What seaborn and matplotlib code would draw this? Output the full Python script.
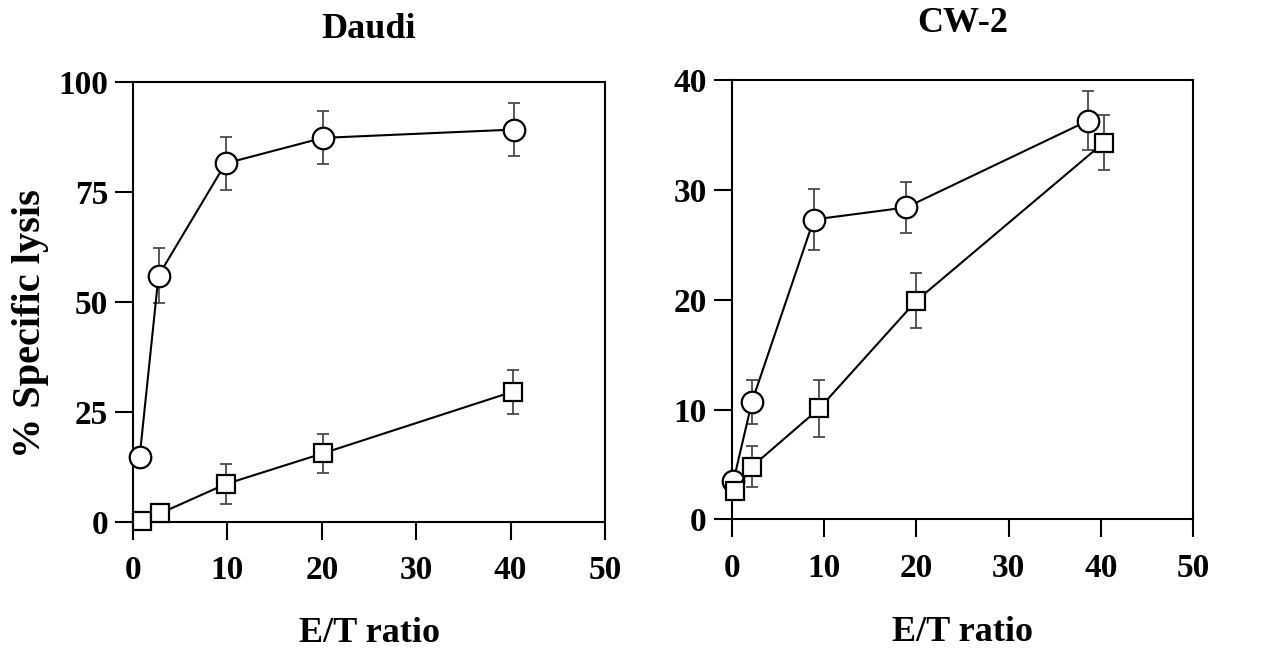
import numpy as np
import pandas as pd
import matplotlib
matplotlib.use("Agg")
import matplotlib.pyplot as plt
import seaborn as sns

# ---- data ----
daudi_circ_x = [0.7, 2.7, 9.8, 20.1, 40.4]
daudi_circ_y = [14.8, 56.0, 81.5, 87.3, 89.2]
daudi_circ_e = [0, 6.2, 6.0, 6.0, 6.0]
daudi_sq_x = [0.9, 2.9, 9.8, 20.1, 40.2]
daudi_sq_y = [0.2, 2.0, 8.6, 15.6, 29.6]
daudi_sq_e = [0, 0, 4.5, 4.4, 5.0]

cw2_circ_x = [0.2, 2.2, 8.9, 18.9, 38.6]
cw2_circ_y = [3.5, 10.7, 27.3, 28.4, 36.3]
cw2_circ_e = [0, 2.0, 2.8, 2.3, 2.7]
cw2_sq_x = [0.4, 2.2, 9.5, 20.0, 40.3]
cw2_sq_y = [2.6, 4.8, 10.1, 19.9, 34.3]
cw2_sq_e = [0, 1.9, 2.6, 2.5, 2.5]

titles = ["Daudi", "CW-2"]
xticks = [0, 10, 20, 30, 40, 50]
yticks_left = [0, 25, 50, 75, 100]
yticks_right = [0, 10, 20, 30, 40]

sns.set_style("ticks")
plt.rcParams['font.family'] = ['Liberation Serif', 'DejaVu Serif']
plt.rcParams['font.weight'] = 'bold'

fig = plt.figure(figsize=(12.61, 6.53), dpi=100)
axL = fig.add_axes([0.1055, 0.2006, 0.3743, 0.6738])
axR = fig.add_axes([0.5802, 0.2047, 0.3661, 0.6727])

panels = [
    (axL, daudi_circ_x, daudi_circ_y, daudi_circ_e, daudi_sq_x, daudi_sq_y, daudi_sq_e, yticks_left, titles[0], 32, 22),
    (axR, cw2_circ_x, cw2_circ_y, cw2_circ_e, cw2_sq_x, cw2_sq_y, cw2_sq_e, yticks_right, titles[1], 34.5, 23),
]

for ax, cx, cy, ce, sx, sy, se, yt, title, tpad, xlpad in panels:
    for x, y, e in [(cx, cy, ce), (sx, sy, se)]:
        ax.errorbar(x, y, yerr=e, fmt='none', ecolor='#4a4a4a', elinewidth=1.3,
                    capsize=4.5, capthick=1.3, zorder=2, clip_on=False)
    dfc = pd.DataFrame({"x": cx, "y": cy})
    dfs = pd.DataFrame({"x": sx, "y": sy})
    sns.lineplot(data=dfc, x="x", y="y", ax=ax, color='black', linewidth=1.5,
                 marker='o', markersize=15.5, markerfacecolor='white',
                 markeredgecolor='black', markeredgewidth=1.6, sort=False,
                 zorder=3, clip_on=False)
    sns.lineplot(data=dfs, x="x", y="y", ax=ax, color='black', linewidth=1.5,
                 marker='s', markersize=12.5, markerfacecolor='white',
                 markeredgecolor='black', markeredgewidth=1.6, sort=False,
                 zorder=4, clip_on=False)
    ax.set_xlim(0, 50)
    ax.set_ylim(0, yt[-1])
    ax.set_xticks(xticks)
    ax.set_yticks(yt)
    ax.tick_params(direction='out', length=13, width=1.5, labelsize=24, pad=5,
                   colors='black')
    ax.tick_params(axis='x', pad=11)
    for lab in ax.get_xticklabels() + ax.get_yticklabels():
        lab.set_fontweight('bold')
    for sp in ax.spines.values():
        sp.set_visible(True)
        sp.set_linewidth(1.5)
        sp.set_color('black')
    ax.set_xlabel("E/T ratio", fontsize=26, fontweight='bold', labelpad=xlpad, color='black')
    ax.set_ylabel("")
    ax.set_title(title, fontsize=26, fontweight='bold', pad=tpad, color='black')

axL.set_ylabel("% Specific lysis", fontsize=29, fontweight='bold', color='black')
axL.yaxis.set_label_coords(-0.178, 0.45)

fig.savefig("out.png", dpi=100)
